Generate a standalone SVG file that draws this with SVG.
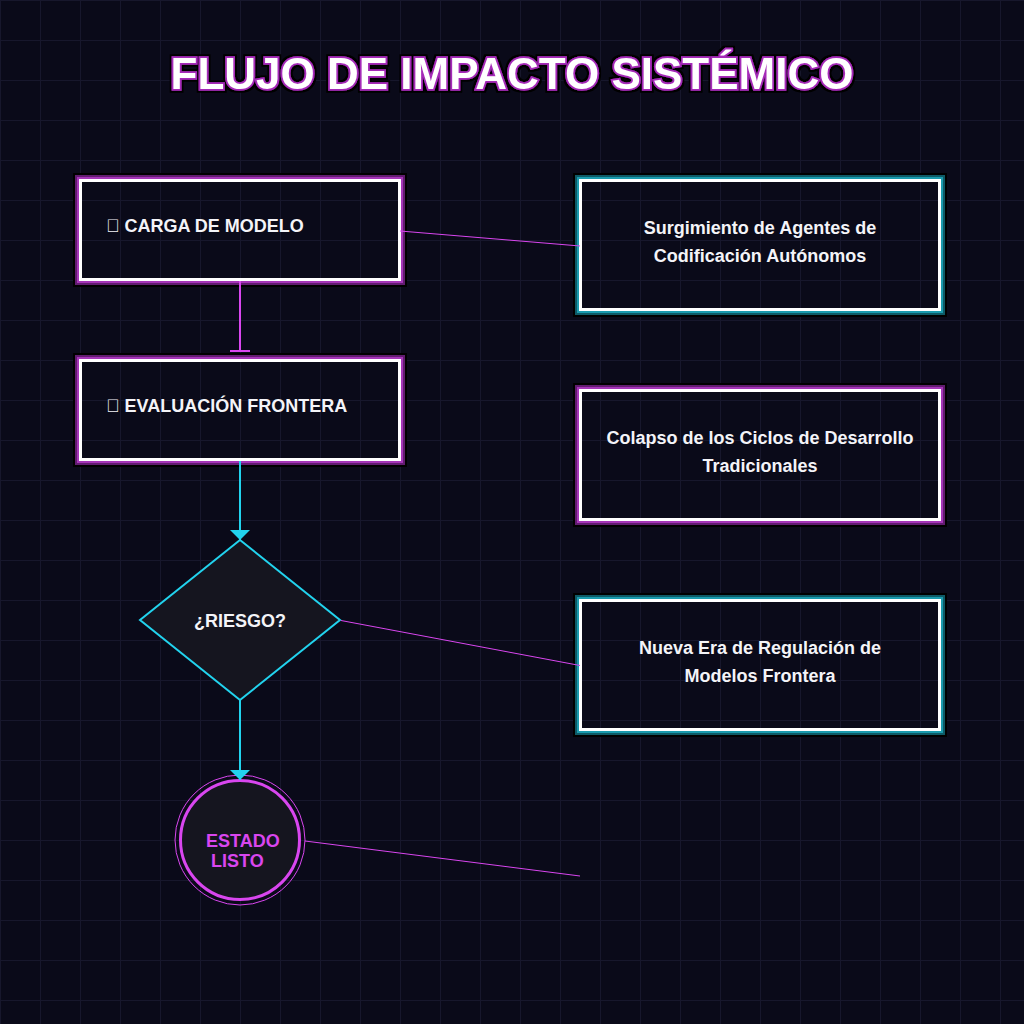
<svg xmlns="http://www.w3.org/2000/svg" width="1024" height="1024" viewBox="0 0 1024 1024">
  <defs>
    <pattern id="grid" width="40" height="40" patternUnits="userSpaceOnUse">
      <path d="M0 0.5H40M0.5 0V40" fill="none" stroke="#17172c" stroke-width="1"/>
    </pattern>
    <marker id="arrowCyan" viewBox="0 0 10 20" markerWidth="10" markerHeight="20" refX="10" refY="10" orient="auto" markerUnits="userSpaceOnUse">
      <path d="M0 0 L10 10 L0 20 Z" fill="#22d3ee"/>
    </marker>
    <marker id="tee" viewBox="0 0 4 22" markerWidth="4" markerHeight="22" refX="2" refY="11" orient="auto" markerUnits="userSpaceOnUse">
      <rect x="1" y="1" width="2" height="20" fill="#d946ef"/>
    </marker>
    <filter id="outline" x="-5%" y="-30%" width="110%" height="160%">
      <feMorphology in="SourceAlpha" operator="dilate" radius="2" result="d"/>
      <feFlood flood-color="#000000"/>
      <feComposite in2="d" operator="in" result="blk"/>
      <feMerge>
        <feMergeNode in="blk"/>
        <feMergeNode in="SourceGraphic"/>
      </feMerge>
    </filter>
    <style>
      .lbl { font-family: "Liberation Sans", Arial, sans-serif; font-weight: bold; font-size: 18px; fill: #f4f4f8; }
      .ctr { text-anchor: middle; }
      .white { fill: none; stroke: #ffffff; stroke-width: 3; }
      .pA { fill: none; stroke: #a535b8; stroke-width: 2; }
      .pB { fill: none; stroke: #621c70; stroke-width: 2; }
      .tA { fill: none; stroke: #1a9aad; stroke-width: 2; }
      .tB { fill: none; stroke: #0e5a66; stroke-width: 2; }
      .blk { fill: none; stroke: #000000; stroke-width: 2; }
      .link { fill: none; stroke: #d946ef; stroke-width: 1; }
      .flow { fill: none; stroke: #22d3ee; stroke-width: 2; }
    </style>
  </defs>

  <rect width="1024" height="1024" fill="#0a0a19"/>
  <rect width="1024" height="1024" fill="url(#grid)"/>

  <text x="512" y="89" text-anchor="middle" font-family="Liberation Sans, Arial, sans-serif" font-weight="bold" font-size="44" fill="#ffffff" stroke="#a52cb8" stroke-width="3.5" paint-order="stroke" filter="url(#outline)">FLUJO DE IMPACTO SISTÉMICO</text>

  <g id="node-carga">
    <rect class="blk" x="74" y="174" width="332" height="112"/>
    <rect class="pB" x="76" y="176" width="328" height="108"/>
    <rect class="pA" x="78" y="178" width="324" height="104"/>
    <rect class="white" x="80.5" y="180.5" width="319" height="99"/>
    <text class="lbl" x="106" y="232">&#xE000; CARGA DE MODELO</text>
  </g>

  <g id="node-evaluacion">
    <rect class="blk" x="74" y="354" width="332" height="112"/>
    <rect class="pB" x="76" y="356" width="328" height="108"/>
    <rect class="pA" x="78" y="358" width="324" height="104"/>
    <rect class="white" x="80.5" y="360.5" width="319" height="99"/>
    <text class="lbl" x="106" y="412">&#xE000; EVALUACIÓN FRONTERA</text>
  </g>

  <g id="node-riesgo">
    <polygon points="240,540 340,620 240,700 140,620" fill="#15151f" stroke="#22d3ee" stroke-width="2"/>
    <text class="lbl ctr" x="240" y="627">¿RIESGO?</text>
  </g>

  <g id="node-estado">
    <circle cx="240" cy="840" r="65" fill="none" stroke="#d946ef" stroke-width="1"/>
    <circle cx="240" cy="840" r="59.5" fill="#15151f" stroke="#d946ef" stroke-width="3"/>
    <text class="lbl" x="206" y="847" style="fill:#d946ef">ESTADO</text>
    <text class="lbl" x="211" y="867" style="fill:#d946ef">LISTO</text>
  </g>

  <g id="node-agentes">
    <rect class="blk" x="574" y="174" width="372" height="142"/>
    <rect class="tB" x="576" y="176" width="368" height="138"/>
    <rect class="tA" x="578" y="178" width="364" height="134"/>
    <rect class="white" x="580.5" y="180.5" width="359" height="129"/>
    <text class="lbl ctr" x="760" y="234">Surgimiento de Agentes de</text>
    <text class="lbl ctr" x="760" y="262">Codificación Autónomos</text>
  </g>

  <g id="node-colapso">
    <rect class="blk" x="574" y="384" width="372" height="142"/>
    <rect class="pB" x="576" y="386" width="368" height="138"/>
    <rect class="pA" x="578" y="388" width="364" height="134"/>
    <rect class="white" x="580.5" y="390.5" width="359" height="129"/>
    <text class="lbl ctr" x="760" y="444">Colapso de los Ciclos de Desarrollo</text>
    <text class="lbl ctr" x="760" y="472">Tradicionales</text>
  </g>

  <g id="node-regulacion">
    <rect class="blk" x="574" y="594" width="372" height="142"/>
    <rect class="tB" x="576" y="596" width="368" height="138"/>
    <rect class="tA" x="578" y="598" width="364" height="134"/>
    <rect class="white" x="580.5" y="600.5" width="359" height="129"/>
    <text class="lbl ctr" x="760" y="654">Nueva Era de Regulación de</text>
    <text class="lbl ctr" x="760" y="682">Modelos Frontera</text>
  </g>

  <g id="connectors">
    <line x1="240" y1="281" x2="240" y2="351" stroke="#d946ef" stroke-width="2" marker-end="url(#tee)"/>
    <line class="flow" x1="240" y1="461" x2="240" y2="540" marker-end="url(#arrowCyan)"/>
    <line class="flow" x1="240" y1="700" x2="240" y2="780" marker-end="url(#arrowCyan)"/>
    <line class="link" x1="400" y1="231" x2="580" y2="246"/>
    <line class="link" x1="341" y1="620.5" x2="580" y2="665.5"/>
    <line class="link" x1="305" y1="841" x2="580" y2="876"/>
  </g>
</svg>
